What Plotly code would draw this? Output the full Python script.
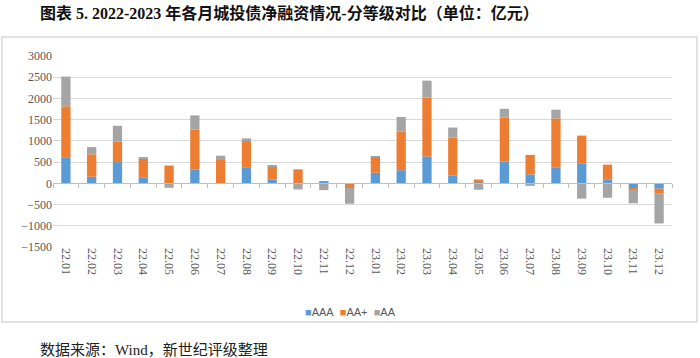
import plotly.graph_objects as go

months = ["22.01", "22.02", "22.03", "22.04", "22.05", "22.06", "22.07", "22.08",
          "22.09", "22.10", "22.11", "22.12", "23.01", "23.02", "23.03", "23.04",
          "23.05", "23.06", "23.07", "23.08", "23.09", "23.10", "23.11", "23.12"]
aaa = [600, 155, 500, 130, 5, 330, 10, 380, 95, 10, 40, -20, 250, 310, 635, 180,
       20, 515, 210, 365, 460, 95, -125, -125]
aa_plus = [1215, 530, 480, 445, 415, 940, 540, 635, 305, 320, 10, -90, 375, 910, 1385, 900,
           70, 1035, 460, 1165, 665, 345, -15, -120]
aa = [700, 170, 375, 30, -105, 330, 100, 45, 10, -145, -160, -370, 10, 345, 400, 235,
      -150, 205, -60, 205, -360, -340, -330, -700]

y_ticks = [3000, 2500, 2000, 1500, 1000, 500, 0, -500, -1000, -1500]

series = [("AAA", aaa, "#5B9BD5"), ("AA+", aa_plus, "#ED7D31"), ("AA", aa, "#A5A5A5")]

fig = go.Figure()
for name, vals, col in series:
    fig.add_trace(go.Bar(x=months, y=vals, name=name, showlegend=False,
                         marker=dict(color=col, line=dict(width=0))))

# invisible trace to carry the zero axis with boundary ticks
fig.add_trace(go.Scatter(x=[-0.5], y=[0], xaxis="x2", mode="markers",
                         marker=dict(opacity=0), showlegend=False, hoverinfo="skip"))

L, R, T, B = 53, 28, 56, 111
W, H = 700, 358
pw, ph = W - L - R, H - T - B

def px(xp):
    return (xp - L) / pw

def py(yp):
    return (H - B - yp) / ph

legend_text = "&nbsp;&nbsp;".join(
    f"<span style='color:{col}'>■</span>{name}" for name, _, col in series)

fig.update_layout(
    width=W, height=H,
    margin=dict(l=L, r=R, t=T, b=B),
    paper_bgcolor="white", plot_bgcolor="white",
    barmode="relative", bargap=0.64,
    font=dict(family="Liberation Serif, Noto Sans CJK SC", color="#595959", size=11),
    xaxis=dict(type="category", tickangle=90, showgrid=False, showline=False, ticks="",
               tickfont=dict(size=12, color="#595959", family="Liberation Serif")),
    xaxis2=dict(overlaying="x", anchor="free", position=1500 / 4500, range=[-0.5, 23.5],
                showline=True, linecolor="#BFBFBF", linewidth=1, ticks="outside", ticklen=4,
                tickcolor="#BFBFBF", tickvals=[i - 0.5 for i in range(25)],
                showticklabels=False, showgrid=False, zeroline=False),
    yaxis=dict(range=[-1500, 3000], tickvals=y_ticks, showgrid=True, gridcolor="#D9D9D9",
               gridwidth=1, zeroline=False, showline=False, ticks="",
               tickfont=dict(size=12, color="#595959", family="Liberation Serif")),
    showlegend=False,
    shapes=[dict(type="rect", xref="paper", yref="paper", x0=px(2), x1=px(697),
                 y0=py(322), y1=py(37), line=dict(color="#D9D9D9", width=1.5), layer="below")],
    annotations=[
        dict(text="<b>图表 5. 2022-2023 年各月城投债净融资情况-分等级对比（单位：亿元）</b>",
             xref="paper", yref="paper", x=px(38), y=py(13), xanchor="left", yanchor="middle",
             showarrow=False, font=dict(size=16, color="#111111",
                                        family="Liberation Serif, Noto Sans CJK SC")),
        dict(text=legend_text, xref="paper", yref="paper", x=px(350), y=py(312),
             xanchor="center", yanchor="middle", showarrow=False,
             font=dict(size=11, color="#595959",
                       family="Liberation Sans Narrow, Liberation Sans")),
        dict(text="数据来源：Wind，新世纪评级整理", xref="paper", yref="paper",
             x=px(38), y=py(350), xanchor="left", yanchor="middle", showarrow=False,
             font=dict(size=15, color="#222222", family="Liberation Serif, Noto Sans CJK SC")),
    ],
)

fig.write_html("out.html", config={"displayModeBar": False},
               post_script="document.body.style.margin='0';")
